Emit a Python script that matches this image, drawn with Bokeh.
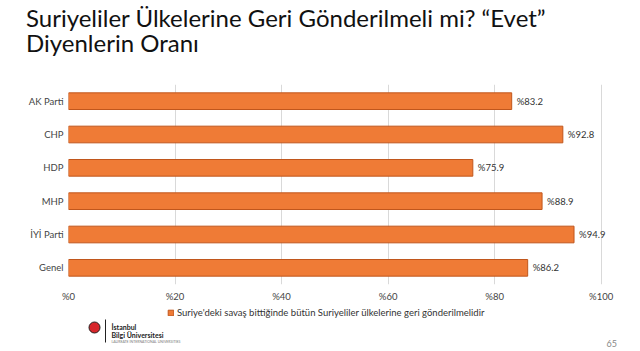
from bokeh.plotting import figure
from bokeh.layouts import column
from bokeh.models import ColumnDataSource, FixedTicker, Legend, LegendItem, Range1d, Div
from bokeh.core.properties import value
from bokeh.embed import file_html
from bokeh.resources import INLINE

categories = ["AK Parti", "CHP", "HDP", "MHP", "İYİ Parti", "Genel"]
values = [83.2, 92.8, 75.9, 88.9, 94.9, 86.2]
value_labels = ["%83.2", "%92.8", "%75.9", "%88.9", "%94.9", "%86.2"]
x_ticks = [0, 20, 40, 60, 80, 100]
x_tick_labels = ["%0", "%20", "%40", "%60", "%80", "%100"]
series_name = "Suriye'deki savaş bittiğinde bütün Suriyeliler ülkelerine geri gönderilmelidir"
title_lines = ["Suriyeliler Ülkelerine Geri Gönderilmeli mi? “Evet”", "Diyenlerin Oranı"]
page_number = "65"
footer_texts = ["İstanbul", "Bilgi Üniversitesi", "LAUREATE INTERNATIONAL UNIVERSITIES"]

FONT = "Lato"
BAR_FILL = "#EF7B36"
BAR_LINE = "#C0561C"
LEFT, RIGHT = 68, 18
src = ColumnDataSource(dict(cat=categories, val=values, lab=value_labels))

# ---------------- header (title) ----------------
h = Div(text="<br>".join(title_lines), width=640, height=84,
        styles={"font-family": "Lato", "font-size": "24px", "line-height": "25px",
                "color": "#111111", "padding-left": "26px", "padding-top": "5px",
                "box-sizing": "border-box", "white-space": "nowrap", "margin": "0"})

# ---------------- main chart ----------------
p = figure(width=640, height=221, output_backend="svg", toolbar_location=None,
           y_range=list(reversed(categories)), x_range=(0, 104),
           min_border_left=LEFT, min_border_right=RIGHT, min_border_top=0, min_border_bottom=21)
p.outline_line_color = None
p.border_fill_color = "white"

r = p.hbar(y="cat", right="val", left=0, height=0.5, source=src,
           fill_color=BAR_FILL, line_color=BAR_LINE, line_width=1)
p.text(x="val", y="cat", text="lab", source=src, x_offset=5, text_baseline="middle",
       text_font_size="9.5px", text_color="#333333", text_font=value(FONT))

p.xaxis.ticker = FixedTicker(ticks=x_ticks)
p.xaxis.major_label_overrides = {t: l for t, l in zip(x_ticks, x_tick_labels)}
for ax in (p.xaxis, p.yaxis):
    ax.axis_line_color = None
    ax.major_tick_line_color = None
    ax.minor_tick_line_color = None
    ax.major_tick_out = 0
    ax.major_tick_in = 0
    ax.major_label_text_font_size = "9.5px"
    ax.major_label_text_color = "#444444"
    ax.major_label_text_font = FONT
p.xaxis.major_label_standoff = 6
p.yaxis.major_label_standoff = 5
p.ygrid.grid_line_color = None
p.xgrid.grid_line_color = "#d9d9d9"

# ---------------- footer (legend, logo, page number) ----------------
f = figure(width=640, height=46, output_backend="svg", toolbar_location=None,
           x_range=Range1d(LEFT, 640 - RIGHT), y_range=Range1d(46, 0),
           x_axis_type=None, y_axis_type=None,
           min_border_left=LEFT, min_border_right=RIGHT, min_border_top=0, min_border_bottom=0)
f.outline_line_color = None
f.grid.visible = False
f.border_fill_color = "white"

# legend proxy: same style as the bars, its data lies outside the footer's visible y range
legend_proxy = f.hbar(y="val", left=0, right="val", height=1, source=src,
                      fill_color=BAR_FILL, line_color=BAR_LINE)
fl = Legend(items=[LegendItem(label=series_name, renderers=[legend_proxy])], orientation="horizontal",
            location=(167 - LEFT, 33), label_text_font_size="9.5px", label_text_font=FONT,
            label_text_color="#333333", glyph_width=7, glyph_height=7, label_standoff=3,
            padding=0, margin=0, border_line_color=None, background_fill_alpha=0,
            label_height=9)
f.add_layout(fl, "center")

f.scatter(x=[94], y=[22], size=11, marker="circle", fill_color="#D7262B", line_color="#222222")
f.segment(x0=[105], y0=[14], x1=[105], y1=[37], line_color="#222222", line_width=1)
f.text(x=[111, 111], y=[21, 29.5], text=footer_texts[:2], text_font=value(FONT),
       text_font_size="7px", text_font_style="bold", text_color="#222222", text_baseline="middle")
f.text(x=[111], y=[36.5], text=[footer_texts[2]], text_font=value(FONT),
       text_font_size="3.5px", text_color="#777777", text_baseline="middle")
f.text(x=[606], y=[38], text=[page_number], text_font=value(FONT),
       text_font_size="9px", text_color="#888888", text_baseline="middle")

layout = column(h, p, f, spacing=0)
open("out.html", "w").write(file_html(layout, INLINE))
